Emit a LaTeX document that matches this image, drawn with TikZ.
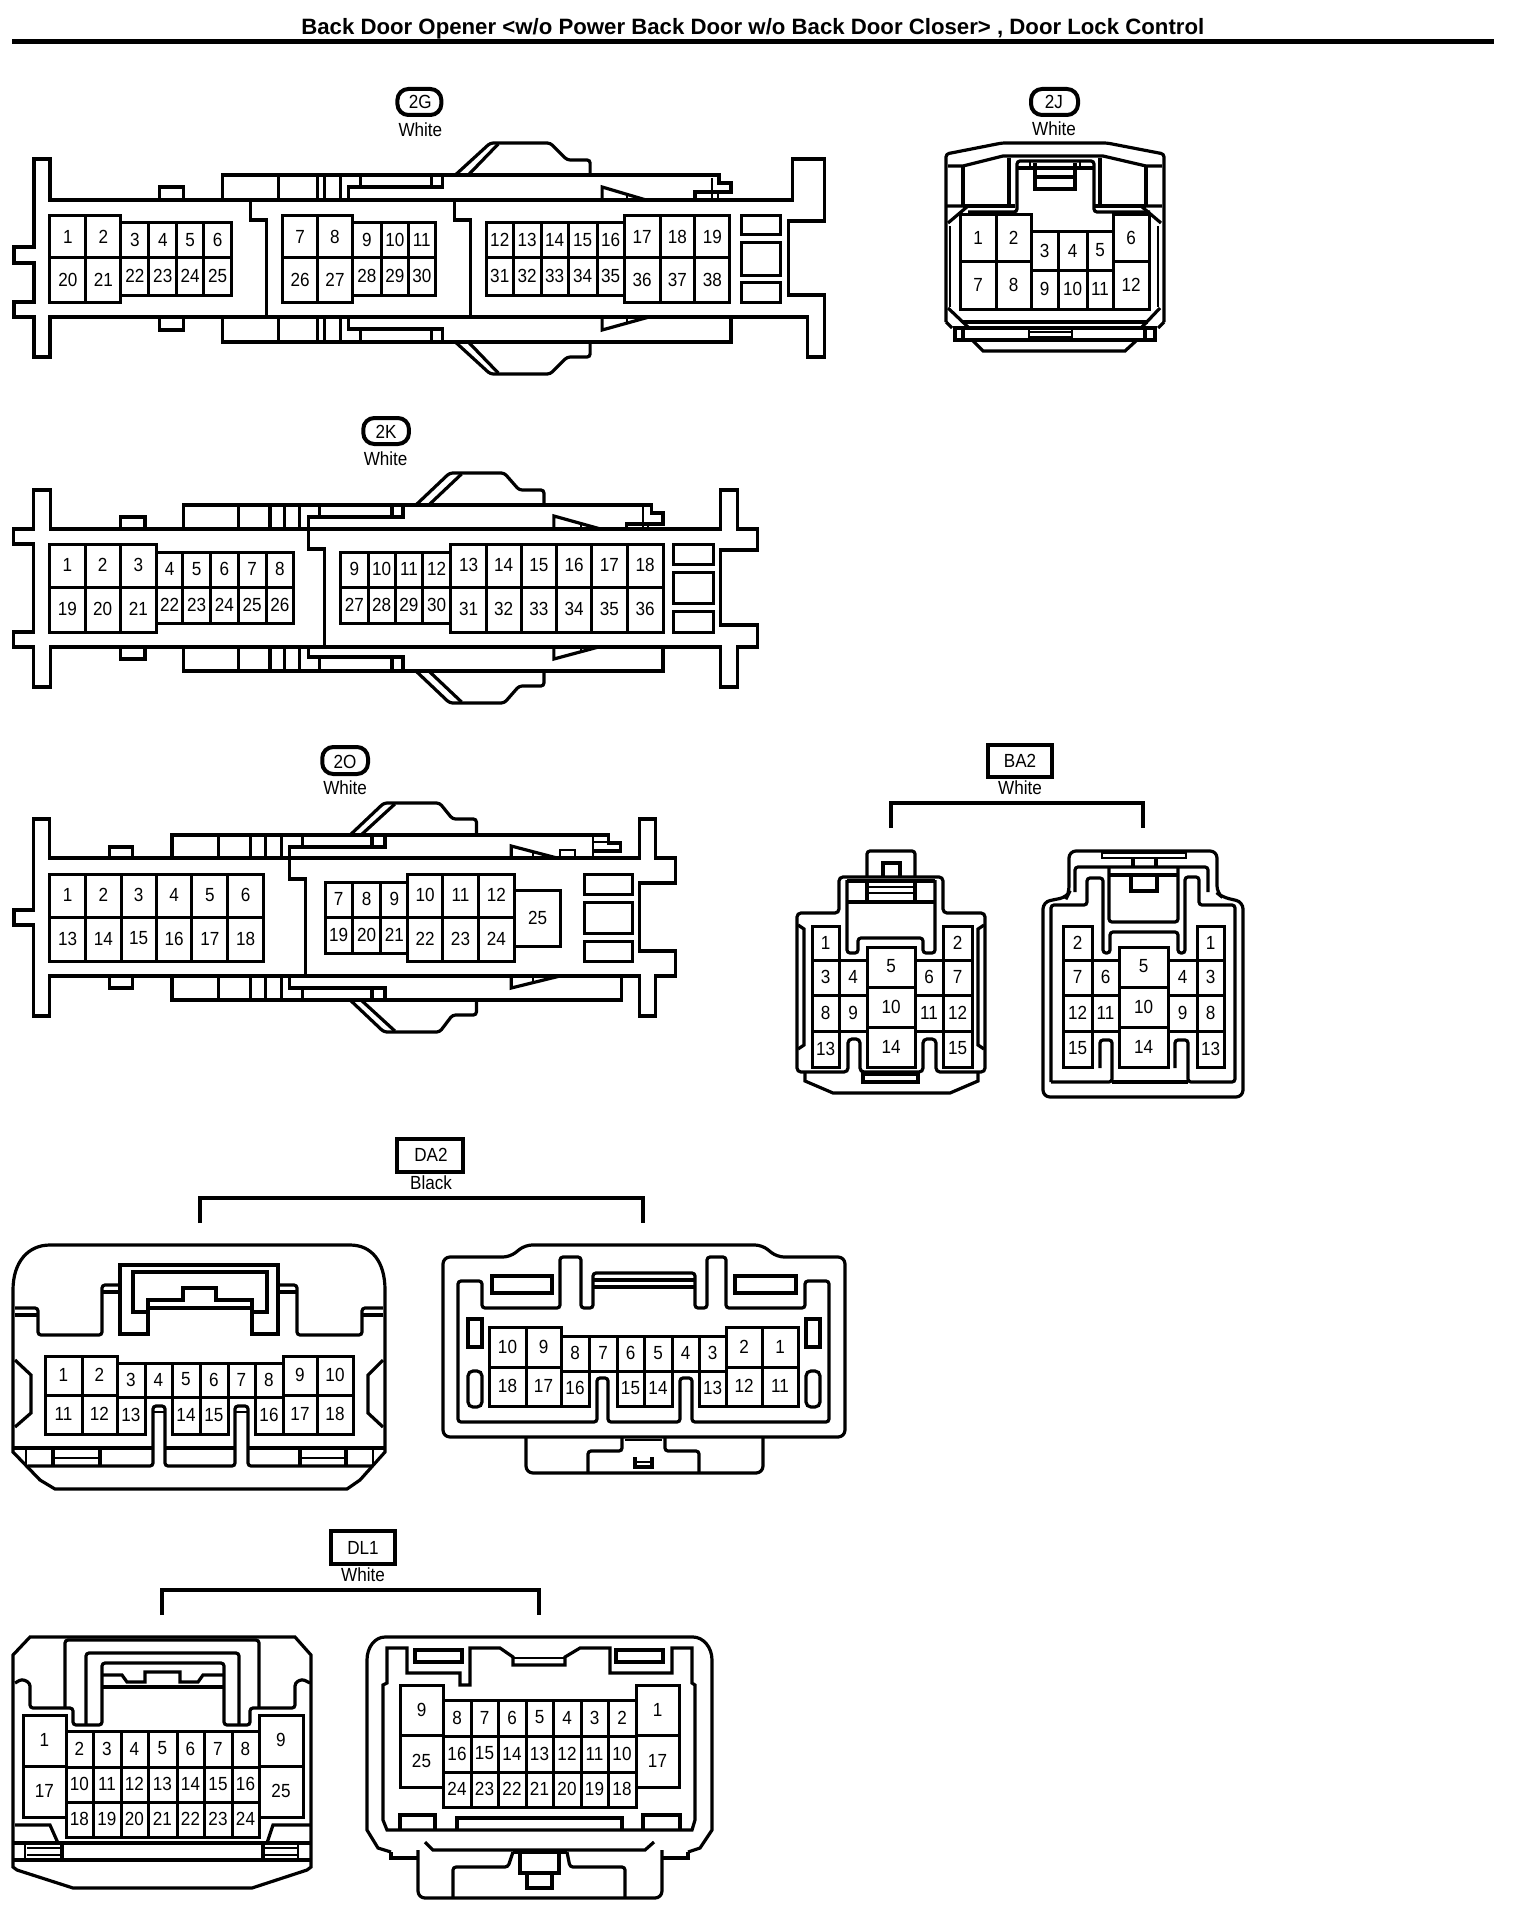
\documentclass[tikz,border=0pt]{standalone}
\usepackage{fontspec}
\setmainfont[FakeStretch=0.9]{Liberation Sans}
\newfontfamily\titlefont{Liberation Sans}
\tikzset{
  ol/.style={draw=black,line width=3.2pt,line join=miter,line cap=butt},
  th/.style={draw=black,line width=2.2pt,line cap=butt},
  rd/.style={ol,rounded corners=3pt},
  rdb/.style={ol,rounded corners=7pt},
  cl/.style={draw=black,line width=3pt},
  num/.style={inner sep=0pt,font=\fontsize{19}{19}\selectfont},
  lab/.style={inner sep=0pt,font=\fontsize{19}{19}\selectfont},
  pill/.style={draw=black,line width=4pt,rounded corners=11pt},
  tag/.style={draw=black,line width=3.4pt}
}
\newcommand{\cells}[3]{\foreach \a/\b/\c in {#3}{%
  \draw[cl] (\a,#1) rectangle (\b,#2);
  \node[num] at ({(\a+\b)/2},{(#1+#2)/2-0.5}) {\c};}}
\newcommand{\boxes}[1]{\foreach \a/\b/\c/\d in {#1}{\draw[cl] (\a,\b) rectangle (\c,\d);}}
\begin{document}
\begin{tikzpicture}[x=1pt,y=-1pt]
\useasboundingbox[fill=white] (0,0) rectangle (1520,1918);
% title
\node[inner sep=0pt,anchor=base,font=\titlefont\bfseries\fontsize{22.2}{22.2}\selectfont] (title) at (752.8,35) {Back Door Opener <w/o Power Back Door w/o Back Door Closer> , Door Lock Control};
\draw[black,line width=4.5pt] (12,41.5) -- (1494,41.5);

%%%%%%%%%% 2G
\begin{scope}[xscale=0.9985]
\draw[pill] (398,89) rectangle (442,115);
\node[lab] (g) at (421,102) {2G};
\node[lab] (gw) at (421,130) {White};
\draw[ol] (50,200)--(50,159)--(34,159)--(34,247)--(14,247)--(14,263)--(34,263)--(34,302)--(14,302)--(14,317)--(34,317)--(34,357)--(50,357)--(50,317)--(809,317)--(809,357)--(826,357)--(826,295)--(790,295)--(790,221)--(826,221)--(826,159)--(794,159)--(794,200)--cycle;
\draw[ol] (160,200)--(160,187)--(184,187)--(184,200);
\draw[ol] (160,317)--(160,330)--(184,330)--(184,317);
% upper block
\draw[ol] (223,200)--(223,175)--(720,175)--(720,183)--(732,183)--(732,192)--(696,192)--(696,200);
\foreach \v in {279,318,325,341}{\draw[ol] (\v,175)--(\v,200);\draw[ol] (\v,317)--(\v,342);}
\draw[ol] (349,200)--(349,187)--(443,187)--(443,175);
\draw[ol] (432,175)--(432,187) (361,175)--(361,187);
\draw[th] (713,178)--(713,200) (719,192)--(719,200);
\draw[ol] (603,200)--(603,187)--(647,200);
\draw[th] (628,193)--(628,200);
\draw[rd] (456,175)--(491,143)--(551,143)--(568,160)--(591,160)--(591,175);
\draw[ol] (469,175)--(499,144);
% lower block
\draw[ol] (223,317)--(223,342)--(732,342)--(732,317);
\draw[ol] (349,317)--(349,329)--(443,329)--(443,342);
\draw[ol] (432,329)--(432,342) (361,329)--(361,342);
\draw[ol] (603,317)--(603,330)--(650,317);
\draw[th] (628,322)--(628,317);
\draw[rd] (456,342)--(491,374)--(551,374)--(568,357)--(591,357)--(591,342);
\draw[ol] (469,342)--(499,373);
\draw[ol] (251,200)--(251,220)--(267,220)--(267,317);
\draw[ol] (455,200)--(455,220)--(471,220)--(471,317);
\cells{216}{258}{50/86/1,86/121/2}
\cells{258}{302}{50/86/20,86/121/21}
\cells{223}{258}{121/149/3,149/177/4,177/204/5,204/232/6}
\cells{258}{295}{121/149/22,149/177/23,177/204/24,204/232/25}
\cells{216}{258}{283/318/7,318/353/8}
\cells{258}{302}{283/318/26,318/353/27}
\cells{223}{258}{353/382/9,382/409/10,409/436/11}
\cells{258}{295}{353/382/28,382/409/29,409/436/30}
\cells{223}{258}{487/514/12,514/542/13,542/569/14,569/598/15,598/625/16}
\cells{258}{295}{487/514/31,514/542/32,542/569/33,569/598/34,598/625/35}
\cells{216}{258}{625/661/17,661/696/18,696/731/19}
\cells{258}{302}{625/661/36,661/696/37,696/731/38}
\boxes{743/216/782/235,743/243/782/275,743/282/782/302}
\end{scope}

%%%%%%%%%% 2J
\draw[pill] (1031,89) rectangle (1078,115);
\node[lab] (j) at (1054,102) {2J};
\node[lab] (jw) at (1054,129) {White};
\draw[rd] (946,322)--(946,154)--(1002,143)--(1107,143)--(1164,154)--(1164,322);
\draw[ol] (946,322)--(952,328) (1164,322)--(1158,328);
\draw[ol] (955,328) rectangle (1155,340);
\draw[ol] (972,340)--(983,351)--(1125,351)--(1137,340);
\draw[ol] (948,166)--(963,166)--(1003,156)--(1103,156)--(1146,166)--(1162,166);
\draw[ol] (963,166)--(963,205) (1146,166)--(1146,205) (1009,158)--(1009,205) (1100,158)--(1100,205);
\draw[ol] (963,206)--(1015,206) (1094,206)--(1146,206);
\draw[rd] (968,212)--(1017,212)--(1017,161)--(1094,161)--(1094,212)--(1150,212);
\draw[ol] (1017,168)--(1094,168);
\draw[ol] (1035,163)--(1035,189)--(1075,189)--(1075,163) (1035,177)--(1075,177);
\draw[th] (1030,161)--(1030,168) (1080,161)--(1080,168);
\draw[ol] (947,206)--(963,206) (948,223)--(968,206) (1161,223)--(1141,206) (1162,206)--(1146,206);
\draw[th] (950,226)--(950,307) (1158,226)--(1158,307);
\draw[ol] (948,308)--(968,327) (1160,308)--(1142,327);
\draw[ol] (962,322)--(1148,322);
\draw[ol] (963,328)--(963,340) (1145,328)--(1145,340);
\draw[th] (1029,328)--(1029,337)--(1072,337)--(1072,328) (1029,332)--(1072,332);
\cells{215}{262}{960/996/1,996/1031/2}
\cells{262}{309}{960/996/7,996/1031/8}
\cells{232}{270}{1031/1058/3,1058/1087/4,1087/1113/5}
\cells{270}{309}{1031/1058/9,1058/1087/10,1087/1113/11}
\cells{215}{262}{1113/1149/6}
\cells{262}{309}{1113/1149/12}

%%%%%%%%%% 2K
\begin{scope}[xscale=0.9926]
\draw[pill] (366,418) rectangle (412,444);
\node[lab] (k) at (389,432) {2K};
\node[lab] (kw) at (388.5,459) {White};
\draw[ol] (51,529)--(51,490)--(34,490)--(34,529)--(14,529)--(14,544)--(34,544)--(34,632)--(14,632)--(14,647)--(34,647)--(34,687)--(51,687)--(51,647)--(726,647)--(726,687)--(743,687)--(743,647)--(763,647)--(763,625)--(726,625)--(726,550)--(763,550)--(763,529)--(743,529)--(743,490)--(726,490)--(726,529)--cycle;
\draw[ol] (121,529)--(121,517)--(146,517)--(146,529);
\draw[ol] (121,647)--(121,659)--(146,659)--(146,647);
\draw[ol] (185,529)--(185,505)--(656,505)--(656,513)--(668,513)--(668,524)--(631,524)--(631,529);
\foreach \v in {240,272,287,302}{\draw[ol] (\v,505)--(\v,529);\draw[ol] (\v,647)--(\v,671);}
\draw[ol] (311,529)--(311,517)--(406,517)--(406,505);
\draw[ol] (395,505)--(395,517) (322,505)--(322,517);
\draw[th] (648,507)--(648,529) (653,524)--(653,529);
\draw[ol] (558,529)--(558,516)--(605,529);
\draw[th] (585,524)--(585,529);
\draw[rd] (419,505)--(453,473)--(508,473)--(523,490)--(548,490)--(548,505);
\draw[ol] (432,505)--(465,474);
\draw[ol] (185,647)--(185,671)--(668,671)--(668,647);
\draw[ol] (311,647)--(311,657)--(406,657)--(406,671);
\draw[ol] (395,657)--(395,671) (322,657)--(322,671);
\draw[ol] (558,647)--(558,659)--(603,647);
\draw[th] (585,652)--(585,647);
\draw[rd] (419,671)--(453,703)--(508,703)--(523,686)--(548,686)--(548,671);
\draw[ol] (432,671)--(465,702);
\draw[ol] (311,529)--(311,549)--(327,549)--(327,647);
\cells{544}{587}{50/86/1,86/121/2,121/158/3}
\cells{587}{632}{50/86/19,86/121/20,121/158/21}
\cells{552}{587}{158/184/4,184/212/5,212/240/6,240/268/7,268/296/8}
\cells{587}{623}{158/184/22,184/212/23,212/240/24,240/268/25,268/296/26}
\cells{552}{587}{343/371/9,371/398/10,398/426/11,426/454/12}
\cells{587}{623}{343/371/27,371/398/28,398/426/29,426/454/30}
\cells{544}{587}{454/490/13,490/525/14,525/561/15,561/596/16,596/632/17,632/668/18}
\cells{587}{632}{454/490/31,490/525/32,525/561/33,561/596/34,596/632/35,632/668/36}
\boxes{679/544/719/564,679/572/719/603,679/611/719/632}
\end{scope}

%%%%%%%%%% 2O
\begin{scope}[xscale=0.9946]
\draw[pill] (324,747) rectangle (370,774);
\node[lab] (o) at (347,762) {2O};
\node[lab] (ow) at (347,788) {White};
\draw[ol] (50,858)--(50,819)--(34,819)--(34,910)--(14,910)--(14,925)--(34,925)--(34,1016)--(50,1016)--(50,976)--(643,976)--(643,1016)--(659,1016)--(659,976)--(679,976)--(679,951)--(643,951)--(643,883)--(679,883)--(679,858)--(659,858)--(659,819)--(643,819)--(643,858)--cycle;
\draw[ol] (110,858)--(110,847)--(133,847)--(133,858);
\draw[ol] (110,976)--(110,988)--(133,988)--(133,976);
\draw[ol] (173,858)--(173,835)--(612,835)--(612,843)--(624,843)--(624,851)--(596,851);
\foreach \v in {220,252,267,283}{\draw[ol] (\v,835)--(\v,858);\draw[ol] (\v,976)--(\v,1000);}
\draw[ol] (291,858)--(291,847)--(387,847)--(387,835);
\draw[ol] (374,835)--(374,847) (304,835)--(304,847);
\draw[th] (596,835)--(596,858) (596,842)--(612,842);
\draw[th] (563,858)--(563,850)--(578,850)--(578,858);
\draw[ol] (514,858)--(514,846)--(560,858);
\draw[th] (536,852)--(536,858);
\draw[rd] (352,835)--(386,803)--(442,803)--(455,819)--(479,819)--(479,835);
\draw[ol] (363,835)--(397,804);
\draw[ol] (173,976)--(173,1000)--(625,1000)--(625,976);
\draw[ol] (291,976)--(291,988)--(387,988)--(387,1000);
\draw[ol] (374,988)--(374,1000) (304,988)--(304,1000);
\draw[ol] (514,976)--(514,988)--(563,976);
\draw[th] (536,982)--(536,976);
\draw[rd] (352,1000)--(386,1032)--(442,1032)--(455,1015)--(479,1015)--(479,1000);
\draw[ol] (363,1000)--(397,1031);
\draw[ol] (291,858)--(291,879)--(307,879)--(307,976);
\cells{874}{917}{50/86/1,86/122/2,122/157/3,157/193/4,193/229/5,229/265/6}
\cells{917}{961}{50/86/13,86/122/14,122/157/15,157/193/16,193/229/17,229/265/18}
\cells{882}{917}{327/354/7,354/383/8,383/410/9}
\cells{917}{953}{327/354/19,354/383/20,383/410/21}
\cells{874}{917}{410/445/10,445/481/11,481/517/12}
\cells{917}{961}{410/445/22,445/481/23,481/517/24}
\cells{890}{946}{517/564/25}
\boxes{588/874/636/894,588/902/636/933,588/941/636/961}
\end{scope}

%%%%%%%%%% BA2
\draw[tag] (988,745) rectangle (1052,777);
\node[lab] (ba) at (1020,761) {BA2};
\node[lab] (baw) at (1020,788) {White};
\coordinate (bal) at (891,828); \coordinate (bar) at (1143,828);
\draw[ol] (bal)--(891,803)--(1143,803)--(bar);
% left
\draw[rd] (867,877)--(867,851)--(915,851)--(915,877);
\draw[ol] (883,877)--(883,863)--(900,863)--(900,877);
\draw[ol,rounded corners=4pt] (797,1072)--(797,913)--(839,913)--(839,877)--(943,877)--(943,913)--(985,913)--(985,1072)--(936,1072)--(936,1039)--(923,1039)--(923,1072)--(860,1072)--(860,1039)--(848,1039)--(848,1072)--cycle;
\draw[ol] (805,1073)--(805,1081)--(833,1093)--(950,1093)--(978,1081)--(978,1073);
\draw[ol] (863,1074) rectangle (918,1082);
\draw[ol] (798,925)--(804,929)--(804,1045)--(798,1049) (984,925)--(978,929)--(978,1045)--(984,1049);
\draw[rd] (847,880)--(847,953)--(858,953)--(858,938)--(923,938)--(923,953)--(935,953)--(935,880);
\draw[ol] (848,902)--(935,902) (847,881)--(935,881) (867,881)--(867,902) (915,881)--(915,902);
\draw[th] (867,887)--(915,887) (867,893)--(915,893);
\cells{926}{960}{812/839/1,943/972/2}
\cells{960}{995}{812/839/3,839/867/4,915/943/6,943/972/7}
\cells{995}{1031}{812/839/8,839/867/9,915/943/11,943/972/12}
\cells{1031}{1067}{812/839/13,943/972/15}
\cells{947}{987}{867/915/5}
\cells{987}{1027}{867/915/10}
\cells{1027}{1067}{867/915/14}
% right
\draw[rdb] (1069,893)--(1069,851)--(1217,851)--(1217,893)--(1222,897)--(1243,902)--(1243,1097)--(1043,1097)--(1043,902)--(1067,897)--cycle;
\draw[th] (1102,853) rectangle (1186,858);
\draw[ol] (1133,858)--(1133,866) (1156,858)--(1156,866);
\draw[rd] (1075,892)--(1075,867)--(1208,867)--(1208,892);
\draw[rd] (1051,1082)--(1051,905)--(1087,905)--(1087,878)--(1103,878)--(1103,953)--(1110,953)--(1110,932)--(1178,932)--(1178,953)--(1185,953)--(1185,877)--(1199,877)--(1199,905)--(1235,905)--(1235,1082)--(1188,1082)--(1188,1040)--(1175,1040)--(1175,1068);
\draw[rd] (1051,1082)--(1112,1082)--(1112,1040)--(1100,1040)--(1100,1068);
\draw[ol] (1112,1082)--(1188,1082);
\draw[rd] (1109,867)--(1109,922)--(1178,922)--(1178,867);
\draw[ol] (1109,875)--(1178,875);
\draw[ol] (1131,875)--(1131,891)--(1157,891)--(1157,875);
\cells{926}{960}{1063/1092/2,1197/1224/1}
\cells{960}{995}{1063/1092/7,1092/1119/6,1168/1197/4,1197/1224/3}
\cells{995}{1031}{1063/1092/12,1092/1119/11,1168/1197/9,1197/1224/8}
\cells{1031}{1067}{1063/1092/15,1197/1224/13}
\cells{947}{987}{1119/1168/5}
\cells{987}{1027}{1119/1168/10}
\cells{1027}{1067}{1119/1168/14}

%%%%%%%%%% DA2
\draw[tag] (397,1139) rectangle (463,1172);
\node[lab] (da) at (431,1155) {DA2};
\node[lab] (daw) at (431,1183) {Black};
\coordinate (dal) at (200,1223); \coordinate (dar) at (643,1223);
\draw[ol] (dal)--(200,1198)--(643,1198)--(dar);
% left
\draw[ol] (13,1452)--(13,1290) .. controls (13,1262) and (28,1245) .. (50,1245)--(350,1245) .. controls (372,1245) and (385,1262) .. (385,1290)--(385,1452)--(360,1480)--(347,1489)--(55,1489)--(40,1480)--cycle;
\draw[rd] (15,1308)--(38,1308)--(38,1335)--(102,1335)--(102,1285)--(118,1285);
\draw[ol] (15,1315)--(38,1315) (102,1292)--(118,1292);
\draw[rd] (383,1308)--(362,1308)--(362,1335)--(297,1335)--(297,1285)--(280,1285);
\draw[ol] (383,1315)--(362,1315) (297,1292)--(280,1292);
\draw[ol] (120,1334)--(120,1265)--(278,1265)--(278,1334)--(252,1334)--(252,1300)--(216,1300)--(216,1288)--(183,1288)--(183,1300)--(148,1300)--(148,1334)--cycle;
\draw[ol] (148,1312)--(133,1312)--(133,1272)--(267,1272)--(267,1312)--(252,1312) (148,1308)--(252,1308);
\draw[ol] (15,1360)--(31,1375)--(31,1413)--(15,1427) (383,1360)--(368,1375)--(368,1413)--(383,1427);
\draw[ol] (13,1448)--(152,1448) (165,1448)--(235,1448) (248,1448)--(385,1448);
\draw[rd] (28,1466)--(153,1466)--(153,1406)--(165,1406)--(165,1466)--(235,1466)--(235,1406)--(248,1406)--(248,1466)--(372,1466);
\draw[th] (153,1412)--(165,1412) (235,1412)--(248,1412);
\draw[th] (26,1448)--(26,1466) (373,1448)--(373,1466);
\draw[ol] (53,1448)--(53,1466) (100,1448)--(100,1466) (300,1448)--(300,1466) (346,1448)--(346,1466);
\draw[th] (53,1458)--(100,1458) (300,1458)--(346,1458);
\cells{1356}{1395}{45/82/1,82/117/2,283/317/9,317/353/10}
\cells{1395}{1434}{45/82/11,82/117/12,283/317/17,317/353/18}
\cells{1363}{1397}{117/145/3,145/172/4,172/200/5,200/228/6,228/255/7,255/283/8}
\cells{1397}{1434}{117/145/13,172/200/14,200/228/15,255/283/16}
% right
\draw[rdb] (443,1437)--(443,1257)--(510,1257)--(525,1245)--(762,1245)--(777,1257)--(845,1257)--(845,1437)--cycle;
\draw[rdb] (526,1438)--(526,1473)--(763,1473)--(763,1438);
\draw[rd] (622,1438)--(622,1451)--(588,1451)--(588,1473) (665,1438)--(665,1451)--(699,1451)--(699,1473);
\draw[th] (625,1440)--(662,1440);
\draw[ol] (635,1457)--(635,1467)--(652,1467)--(652,1457);
\draw[th] (635,1462)--(652,1462);
\draw[rd] (458,1422)--(458,1281)--(482,1281)--(482,1308)--(560,1308)--(560,1257)--(581,1257)--(581,1308)--(593,1308)--(593,1273)--(695,1273)--(695,1308)--(707,1308)--(707,1257)--(726,1257)--(726,1308)--(805,1308)--(805,1281)--(829,1281)--(829,1422)--(692,1422)--(692,1378)--(680,1378)--(680,1422)--(608,1422)--(608,1378)--(597,1378)--(597,1422)--cycle;
\draw[ol] (593,1280)--(695,1280) (593,1287)--(695,1287);
\draw[ol] (492,1276) rectangle (552,1293);
\draw[ol] (735,1276) rectangle (796,1293);
\draw[ol] (468,1319) rectangle (482,1347);
\draw[ol] (806,1319) rectangle (820,1347);
\draw[ol,rounded corners=5pt] (468,1371) rectangle (482,1407);
\draw[ol,rounded corners=5pt] (806,1371) rectangle (820,1407);
\cells{1327}{1367}{489/526/10,526/561/9,726/762/2,762/798/1}
\cells{1367}{1406}{489/526/18,526/561/17,726/762/12,762/798/11}
\cells{1336}{1371}{561/589/8,589/617/7,617/644/6,644/672/5,672/699/4,699/726/3}
\cells{1371}{1406}{561/589/16,617/644/15,644/672/14,699/726/13}

%%%%%%%%%% DL1
\draw[tag] (331,1531) rectangle (395,1564);
\node[lab] (dl) at (363,1548) {DL1};
\node[lab] (dlw) at (363,1575) {White};
\coordinate (dll) at (162,1615); \coordinate (dlr) at (539,1615);
\draw[ol] (dll)--(162,1590)--(539,1590)--(dlr);
% left
\draw[ol] (13,1867)--(13,1655)--(30,1637)--(295,1637)--(311,1655)--(311,1867)--(307,1870)--(252,1888)--(73,1888)--(17,1870)--cycle;
\draw[rd] (65,1707)--(65,1640)--(259,1640)--(259,1707);
\draw[rd] (15,1683)--(22,1679)--(30,1683)--(30,1708)--(73,1708)--(73,1725)--(102,1725)--(102,1663)--(224,1663)--(224,1725)--(250,1725)--(250,1708)--(295,1708)--(295,1683)--(302,1679)--(310,1683);
\draw[rd] (86,1725)--(86,1653)--(239,1653)--(239,1725);
\draw[ol] (102,1675)--(122,1675)--(127,1682)--(145,1682)--(145,1672)--(180,1672)--(180,1682)--(198,1682)--(203,1675)--(224,1675);
\draw[ol] (102,1687)--(224,1687);
\cells{1731}{1767}{66/93/2,93/121/3,121/148/4,148/177/5,177/204/6,204/232/7,232/259/8}
\cells{1767}{1802}{66/93/10,93/121/11,121/148/12,148/177/13,177/204/14,204/232/15,232/259/16}
\cells{1802}{1837}{66/93/18,93/121/19,121/148/20,148/177/21,177/204/22,204/232/23,232/259/24}
\cells{1715}{1766}{23/66/1,259/303/9}
\cells{1766}{1817}{23/66/17,259/303/25}
\draw[ol] (13,1843)--(311,1843) (13,1860)--(311,1860);
\draw[th] (25,1843)--(25,1860) (298,1843)--(298,1860);
\draw[ol] (62,1843)--(62,1860) (263,1843)--(263,1860);
\draw[th] (27,1848)--(62,1848) (27,1855)--(62,1855) (263,1848)--(298,1848) (263,1855)--(298,1855);
\draw[ol] (15,1825)--(50,1825)--(58,1843) (310,1825)--(273,1825)--(267,1843);
% right
\draw[ol] (391,1852)--(378,1848)--(367,1830)--(367,1660) .. controls (367,1647) and (375,1637) .. (385,1637)--(693,1637) .. controls (703,1637) and (712,1647) .. (712,1660)--(712,1830)--(700,1848)--(688,1852);
\draw[ol] (391,1852)--(391,1858)--(418,1858) (688,1852)--(688,1858)--(662,1858);
\draw[rdb] (418,1850)--(418,1898)--(662,1898)--(662,1850);
\draw[ol] (425,1842)--(433,1850)--(645,1850)--(654,1842);
\draw[ol] (387,1683)--(387,1648)--(407,1648)--(407,1673)--(460,1673)--(460,1685)--(470,1685)--(470,1648)--(500,1648)--(513,1657)--(513,1665)--(565,1665)--(565,1657)--(580,1648)--(610,1648)--(610,1673)--(672,1673)--(672,1648)--(692,1648)--(692,1683)--(695,1685)--(695,1820)--(692,1830)--(387,1830)--(383,1820)--(383,1685)--cycle;
\draw[th] (513,1658)--(565,1658);
\draw[ol] (415,1650) rectangle (462,1662);
\draw[ol] (616,1650) rectangle (663,1662);
\draw[ol] (400,1830)--(400,1815)--(435,1815)--(435,1830);
\draw[ol] (643,1830)--(643,1815)--(680,1815)--(680,1830);
\draw[ol] (457,1830)--(457,1818)--(622,1818)--(622,1830);
\cells{1700}{1736}{443/471/8,471/498/7,498/526/6,526/553/5,553/581/4,581/608/3,608/636/2}
\cells{1736}{1772}{443/471/16,471/498/15,498/526/14,526/553/13,553/581/12,581/608/11,608/636/10}
\cells{1772}{1807}{443/471/24,471/498/23,498/526/22,526/553/21,553/581/20,581/608/19,608/636/18}
\cells{1685}{1735}{400/443/9,636/679/1}
\cells{1735}{1787}{400/443/25,636/679/17}
\draw[ol] (520,1852)--(520,1873)--(559,1873)--(559,1852);
\draw[ol] (527,1873)--(527,1888)--(552,1888)--(552,1873);
\draw[ol] (513,1852)--(567,1852);
\draw[rd] (513,1852)--(508,1867)--(453,1867)--(453,1897) (567,1852)--(570,1867)--(625,1867)--(625,1897);
\end{tikzpicture}
\end{document}
